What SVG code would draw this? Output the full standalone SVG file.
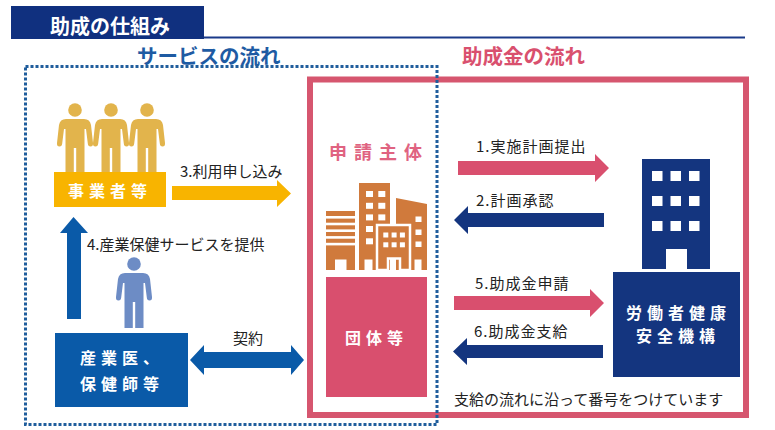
<svg xmlns="http://www.w3.org/2000/svg" xmlns:xlink="http://www.w3.org/1999/xlink" width="775" height="430" viewBox="0 0 775 430">
<defs>
<style>
text{font-family:"Noto Sans CJK JP","Noto Sans",sans-serif;dominant-baseline:central}
.b{font-weight:bold}
.w{fill:#ffffff}
.lbl{font-size:15px;fill:#222222}
.rl{font-size:15px;fill:#222222;letter-spacing:1px}
.box{font-size:16px;font-weight:bold;fill:#ffffff;letter-spacing:5px}
.navy{fill:#14357f}
.pink{fill:#d94f6e}
.blue{fill:#0a5aa8}
.org{fill:#d07a3c}
</style>
<g id="person">
<circle cx="0" cy="0" r="6.8"/>
<path d="M -9 9 L 9 9 Q 15 9 16 15 L 18 33 Q 18.3 36.5 15.5 36.5 Q 13 36.5 12.8 33.5 L 11 19 L 9.5 19 L 9.5 64 L 1.2 64 L 1.2 38 L -1.2 38 L -1.2 64 L -9.5 64 L -9.5 19 L -11 19 L -12.8 33.5 Q -13 36.5 -15.5 36.5 Q -18.3 36.5 -18 33 L -16 15 Q -15 9 -9 9 Z"/>
</g>
</defs>
<rect x="0" y="0" width="775" height="430" fill="#ffffff"/>

<g id="header">
<rect x="11" y="6" width="193" height="33" fill="#10307f"/>
<line x1="204" y1="37.5" x2="745" y2="37.5" stroke="#1a3a8a" stroke-width="2"/>
<text x="50" y="25" class="b w" font-size="20">助成の仕組み</text>
</g>

<g id="titles">
<text x="137" y="55" class="b" font-size="20.5" fill="#1e5ba3">サービスの流れ</text>
<text x="462" y="55" class="b" font-size="20.5" fill="#d9506e">助成金の流れ</text>
</g>

<g id="subsidy-frame">
<rect x="310" y="79.5" width="436" height="335.5" fill="none" stroke="#d6566f" stroke-width="6"/>
</g>
<g id="service-frame">
<rect x="25.5" y="66.5" width="411.5" height="358" fill="none" stroke="#1f5d9c" stroke-width="3" stroke-dasharray="3 2"/>
</g>

<g id="node-jigyosha">
<g fill="#e2b44c">
<use xlink:href="#person" transform="translate(75,110)"/>
<use xlink:href="#person" transform="translate(111,110)"/>
<use xlink:href="#person" transform="translate(147,110)"/>
</g>
<rect x="54" y="172" width="112" height="35" fill="#f8b400"/>
<text x="68" y="190" class="box">事業者等</text>
</g>

<g id="node-sangyoi">
<use xlink:href="#person" transform="translate(134,264)" fill="#6d8cc5"/>
<rect x="55" y="333" width="133" height="74" class="blue"/>
<text x="80" y="357" class="box">産業医、</text>
<text x="80" y="383" class="box">保健師等</text>
</g>

<g id="node-shinsei">
<text x="329" y="151" class="b" font-size="18" fill="#e06381" letter-spacing="7">申請主体</text>
<g class="org">
<path d="M326 211 H355 V270 H346.5 V259.5 H335 V270 H326 Z"/>
<path d="M359 183 H390 V270 H372.5 V259.5 H364.5 V270 H359 Z"/>
<path d="M396 198 L427 204 V270 H421.5 V259.5 H414.5 V270 H396 Z"/>
</g>
<g fill="#ffffff">
<rect x="326" y="216" width="29" height="2.6"/>
<rect x="326" y="222.7" width="29" height="2.6"/>
<rect x="326" y="229.4" width="29" height="2.6"/>
<rect x="326" y="236.1" width="29" height="2.6"/>
<rect x="326" y="242.8" width="29" height="2.6"/>
<rect x="366" y="191" width="7" height="6"/>
<rect x="378.3" y="191" width="7" height="6"/>
<rect x="366" y="202.8" width="7" height="6"/>
<rect x="378.3" y="202.8" width="7" height="6"/>
<rect x="366" y="214.4" width="7" height="6"/>
<rect x="378.3" y="214.4" width="7" height="6"/>
<rect x="366" y="226" width="7" height="6"/>
<rect x="366" y="238.3" width="7" height="6"/>
<rect x="415.5" y="216.5" width="6" height="5.5"/>
<rect x="415.5" y="229.5" width="6" height="5.5"/>
<rect x="415.5" y="241.5" width="6" height="5.5"/>
</g>
<path d="M377 225 H410 V270 H400 V258.5 H388 V270 H377 Z" class="org" stroke="#ffffff" stroke-width="2.5"/>
<g fill="#ffffff">
<rect x="383.3" y="232.5" width="5" height="5"/>
<rect x="391.6" y="232.5" width="5" height="5"/>
<rect x="399.9" y="232.5" width="5" height="5"/>
<rect x="383.3" y="242.3" width="5" height="5"/>
<rect x="391.6" y="242.3" width="5" height="5"/>
<rect x="399.9" y="242.3" width="5" height="5"/>
</g>
<rect x="326" y="277" width="101" height="120" class="pink"/>
<text x="345" y="337" class="box">団体等</text>
</g>

<g id="node-kiko">
<rect x="642" y="159" width="68" height="110" class="navy"/>
<g fill="#ffffff">
<rect x="652" y="171" width="10.5" height="10"/>
<rect x="670.5" y="171" width="10.5" height="10"/>
<rect x="689" y="171" width="10.5" height="10"/>
<rect x="652" y="196" width="10.5" height="10"/>
<rect x="670.5" y="196" width="10.5" height="10"/>
<rect x="689" y="196" width="10.5" height="10"/>
<rect x="652" y="221" width="10.5" height="10"/>
<rect x="670.5" y="221" width="10.5" height="10"/>
<rect x="689" y="221" width="10.5" height="10"/>
<rect x="666" y="249" width="21" height="20"/>
</g>
<rect x="613" y="272" width="127" height="105" class="navy"/>
<text x="626" y="311.5" class="box" font-size="15.5" letter-spacing="5">労働者健康</text>
<text x="636" y="334.5" class="box" font-size="15.5" letter-spacing="5">安全機構</text>
</g>

<g id="connectors">
<polygon points="172,186 277,186 277,180 291,193.5 277,207 277,200 172,200" fill="#f8b400"/>
<polygon points="67,319 67,233 60,233 73.5,217 88,233 81,233 81,319" class="blue"/>
<polygon points="190,360 204,345 204,352 291,352 291,345 304,360 291,375 291,368 204,368 204,375" class="blue"/>
<polygon points="458,161 595,161 595,154 609,168 595,182 595,175 458,175" class="pink"/>
<polygon points="454,220 468,206 468,213 604,213 604,227 468,227 468,234" class="navy"/>
<polygon points="454,296 590,296 590,289 604,303 590,317 590,310 454,310" class="pink"/>
<polygon points="453,351.5 467,338 467,345 603,345 603,358 467,358 467,365" class="navy"/>
</g>

<g id="labels">
<text x="180" y="170" class="lbl" font-size="14">3.利用申し込み</text>
<text x="87" y="243" class="lbl">4.産業保健サービスを提供</text>
<text x="248" y="337" class="lbl" text-anchor="middle">契約</text>
<text x="476" y="145" class="rl">1.実施計画提出</text>
<text x="476" y="199" class="rl">2.計画承認</text>
<text x="475" y="282" class="rl">5.助成金申請</text>
<text x="474" y="330" class="rl">6.助成金支給</text>
<text x="454" y="398" class="lbl" font-size="14.3">支給の流れに沿って番号をつけています</text>
</g>
</svg>
